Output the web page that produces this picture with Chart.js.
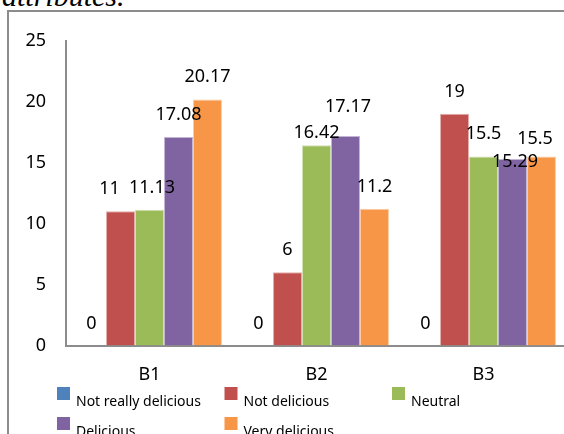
<!DOCTYPE html>
<html>
<head>
<meta charset="utf-8">
<script src="https://cdn.jsdelivr.net/npm/chart.js@4/dist/chart.umd.min.js"></script>
<style>
  html, body { margin: 0; padding: 0; width: 564px; height: 434px; overflow: hidden; background: #fff; }
  #caption { position: absolute; left: 2px; top: -19px; font: italic 30px/30px "Liberation Serif", "Times New Roman", serif; color: #000; white-space: nowrap; }
  #frame { position: absolute; left: 7px; top: 10px; width: 620px; height: 520px; border: 2px solid #8c8c8c; box-sizing: border-box; }
  #wrap { position: absolute; left: 0; top: 0; width: 600px; height: 434px; }
</style>
</head>
<body>
<div id="caption">attributes.</div>
<div id="frame"></div>
<div id="wrap"><canvas id="c" width="600" height="434"></canvas></div>
<script>
// Taste ratings per sample
const categories = ['B1', 'B2', 'B3'];
const notReallyDelicious = [0, 0, 0];
const notDelicious = [11, 6, 19];
const neutral = [11.13, 16.42, 15.5];
const delicious = [17.08, 17.17, 15.29];
const veryDelicious = [20.17, 11.2, 15.5];
const yTicks = [0, 5, 10, 15, 20, 25];

const seriesNames = ['Not really delicious', 'Not delicious', 'Neutral', 'Delicious', 'Very delicious'];
const seriesValues = [notReallyDelicious, notDelicious, neutral, delicious, veryDelicious];
const fills = ['#4F81BD', '#C0504D', '#9BBB59', '#8064A2', '#F79646'];
const edges = ['#a9c1de', '#e2aeac', '#d0e0b2', '#c2b5d6', '#fbcda8'];

const FONT = '"Noto Sans", "Open Sans", sans-serif';

// Hand-placed label shifts [dx, dy] so crowded value labels stay readable
const labelNudge = {
  1: { 0: [-11, 0] },
  2: { 0: [2.5, 0], 1: [0, 10] },
  3: { 1: [2.5, -7], 2: [2.5, 25] },
  4: { 2: [-6.5, 5] }
};

const valueLabels = {
  id: 'valueLabels',
  afterDatasetsDraw(chart) {
    const ctx = chart.ctx;
    ctx.save();
    ctx.font = '18px ' + FONT;
    ctx.fillStyle = '#000';
    ctx.textAlign = 'center';
    ctx.textBaseline = 'alphabetic';
    chart.data.datasets.forEach((ds, di) => {
      chart.getDatasetMeta(di).data.forEach((bar, i) => {
        const n = (labelNudge[di] && labelNudge[di][i]) || [0, 0];
        ctx.fillText(String(ds.data[i]), bar.x + n[0], bar.y - 17 + n[1]);
      });
    });
    ctx.restore();
  }
};

// Legend laid out in fixed columns, three entries per row
const gridLegend = {
  id: 'gridLegend',
  afterDraw(chart) {
    const ctx = chart.ctx;
    ctx.save();
    ctx.font = '14px ' + FONT;
    ctx.textAlign = 'left';
    ctx.textBaseline = 'alphabetic';
    chart.data.datasets.forEach((ds, i) => {
      const col = i % 3, row = Math.floor(i / 3);
      const x = 57 + col * 167.5;
      const y = 387 + row * 30;
      ctx.fillStyle = ds.backgroundColor;
      ctx.fillRect(x, y, 13, 13);
      ctx.fillStyle = '#000';
      ctx.fillText(ds.label, x + 19, y + 19);
    });
    ctx.restore();
  }
};

new Chart(document.getElementById('c'), {
  type: 'bar',
  data: {
    labels: categories,
    datasets: seriesNames.map((name, i) => ({
      label: name,
      data: seriesValues[i],
      backgroundColor: fills[i],
      borderColor: edges[i],
      borderWidth: 1,
      categoryPercentage: 0.868,
      barPercentage: 1
    }))
  },
  options: {
    responsive: false,
    animation: false,
    layout: { padding: { top: 40.5, right: 33, left: 0, bottom: 0 } },
    plugins: { legend: { display: false }, tooltip: { enabled: false } },
    scales: {
      x: {
        grid: { display: false, drawTicks: false },
        border: { display: true, color: '#8c8c8c', width: 2 },
        ticks: { color: '#000', font: { family: FONT, size: 18 }, padding: 19 },
        afterFit(scale) { scale.height = 434 - 345.5; }
      },
      y: {
        min: 0,
        max: 25,
        afterBuildTicks(scale) { scale.ticks = yTicks.map(v => ({ value: v })); },
        grid: { display: false, drawTicks: false },
        border: { display: true, color: '#8c8c8c', width: 2 },
        ticks: { color: '#000', font: { family: FONT, size: 18 }, padding: 20 },
        afterFit(scale) { scale.width = 66; }
      }
    }
  },
  plugins: [valueLabels, gridLegend]
});
</script>
</body>
</html>
